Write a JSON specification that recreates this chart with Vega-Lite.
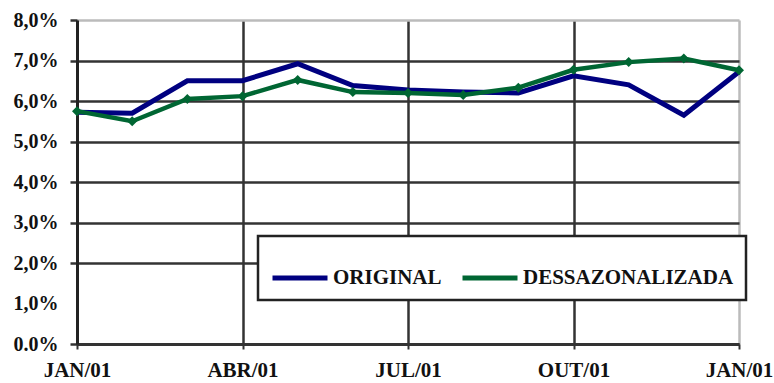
{
  "$schema": "https://vega.github.io/schema/vega-lite/v6.json",
  "width": 662,
  "height": 324,
  "autosize": {"type": "none"},
  "padding": {"left": 77, "top": 20, "right": 35, "bottom": 39},
  "background": "white",
  "config": {
    "view": {"stroke": null},
    "font": "Liberation Serif",
    "legend": {"strokeWidth": 2.5}
  },
  "data": {
    "values": [
      {"m": 0, "serie": "ORIGINAL", "v": 5.72},
      {"m": 1, "serie": "ORIGINAL", "v": 5.7},
      {"m": 2, "serie": "ORIGINAL", "v": 6.5},
      {"m": 3, "serie": "ORIGINAL", "v": 6.5},
      {"m": 4, "serie": "ORIGINAL", "v": 6.92},
      {"m": 5, "serie": "ORIGINAL", "v": 6.38},
      {"m": 6, "serie": "ORIGINAL", "v": 6.27},
      {"m": 7, "serie": "ORIGINAL", "v": 6.22},
      {"m": 8, "serie": "ORIGINAL", "v": 6.2},
      {"m": 9, "serie": "ORIGINAL", "v": 6.62},
      {"m": 10, "serie": "ORIGINAL", "v": 6.4},
      {"m": 11, "serie": "ORIGINAL", "v": 5.65},
      {"m": 12, "serie": "ORIGINAL", "v": 6.72},
      {"m": 0, "serie": "DESSAZONALIZADA", "v": 5.75},
      {"m": 1, "serie": "DESSAZONALIZADA", "v": 5.5},
      {"m": 2, "serie": "DESSAZONALIZADA", "v": 6.05},
      {"m": 3, "serie": "DESSAZONALIZADA", "v": 6.12},
      {"m": 4, "serie": "DESSAZONALIZADA", "v": 6.52},
      {"m": 5, "serie": "DESSAZONALIZADA", "v": 6.22},
      {"m": 6, "serie": "DESSAZONALIZADA", "v": 6.2},
      {"m": 7, "serie": "DESSAZONALIZADA", "v": 6.15},
      {"m": 8, "serie": "DESSAZONALIZADA", "v": 6.33},
      {"m": 9, "serie": "DESSAZONALIZADA", "v": 6.77},
      {"m": 10, "serie": "DESSAZONALIZADA", "v": 6.96},
      {"m": 11, "serie": "DESSAZONALIZADA", "v": 7.05},
      {"m": 12, "serie": "DESSAZONALIZADA", "v": 6.76}
    ]
  },
  "encoding": {
    "x": {
      "field": "m",
      "type": "quantitative",
      "scale": {"domain": [0, 12], "nice": false, "zero": false},
      "axis": {
        "title": null,
        "values": [0, 3, 6, 9, 12],
        "labelExpr": "datum.value == 0 ? 'JAN/01' : datum.value == 3 ? 'ABR/01' : datum.value == 6 ? 'JUL/01' : datum.value == 9 ? 'OUT/01' : 'JAN/01'",
        "labelFont": "Liberation Serif",
        "labelFontWeight": "bold",
        "labelFontSize": 21,
        "labelColor": "#111",
        "labelPadding": 10,
        "labelFlush": false,
        "labelOverlap": false,
        "grid": true,
        "gridColor": {"condition": {"test": "datum.value == 12", "value": "#bbbbbb"}, "value": "#333333"},
        "gridWidth": 2.5,
        "tickSize": 5,
        "tickColor": "#333",
        "tickWidth": 2,
        "domain": true,
        "domainColor": "#333",
        "domainWidth": 3
      }
    },
    "y": {
      "field": "v",
      "type": "quantitative",
      "scale": {"domain": [0, 8], "nice": false},
      "axis": {
        "title": null,
        "values": [0, 1, 2, 3, 4, 5, 6, 7, 8],
        "labelExpr": "datum.value == 0 ? '0.0%' : replace(format(datum.value, '.1f'), '.', ',') + '%'",
        "labelFont": "Liberation Serif",
        "labelFontWeight": "bold",
        "labelFontSize": 20,
        "labelColor": "#111",
        "labelPadding": 12,
        "labelFlush": false,
        "grid": true,
        "gridColor": {"condition": [{"test": "datum.value == 8", "value": "#bbbbbb"}, {"test": "datum.value == 1", "value": "transparent"}], "value": "#333333"},
        "gridWidth": 2.5,
        "tickSize": 7,
        "tickColor": {"condition": {"test": "datum.value == 1", "value": "transparent"}, "value": "#333"},
        "tickWidth": 2.5,
        "domain": true,
        "domainColor": "#222",
        "domainWidth": 3
      }
    },
    "color": {
      "field": "serie",
      "type": "nominal",
      "scale": {"domain": ["ORIGINAL", "DESSAZONALIZADA"], "range": ["#000080", "#006633"]},
      "legend": {
        "orient": "none",
        "legendX": 181,
        "legendY": 216,
        "direction": "horizontal",
        "title": null,
        "fillColor": "white",
        "strokeColor": "#222",
        "padding": 12,
        "symbolType": "stroke",
        "symbolSize": 3025,
        "symbolStrokeWidth": 5,
        "labelFont": "Liberation Serif",
        "labelFontWeight": "bold",
        "labelFontSize": 21,
        "labelColor": "#111",
        "labelOffset": 3,
        "columnPadding": 10,
        "labelLimit": 400
      }
    }
  },
  "layer": [
    {
      "transform": [{"filter": "datum.serie == 'ORIGINAL'"}],
      "mark": {"type": "line", "strokeWidth": 5}
    },
    {
      "transform": [{"filter": "datum.serie == 'DESSAZONALIZADA'"}],
      "mark": {"type": "line", "strokeWidth": 4.5}
    },
    {
      "transform": [{"filter": "datum.serie == 'DESSAZONALIZADA'"}],
      "mark": {"type": "point", "shape": "diamond", "filled": true, "size": 100, "opacity": 1}
    }
  ]
}
